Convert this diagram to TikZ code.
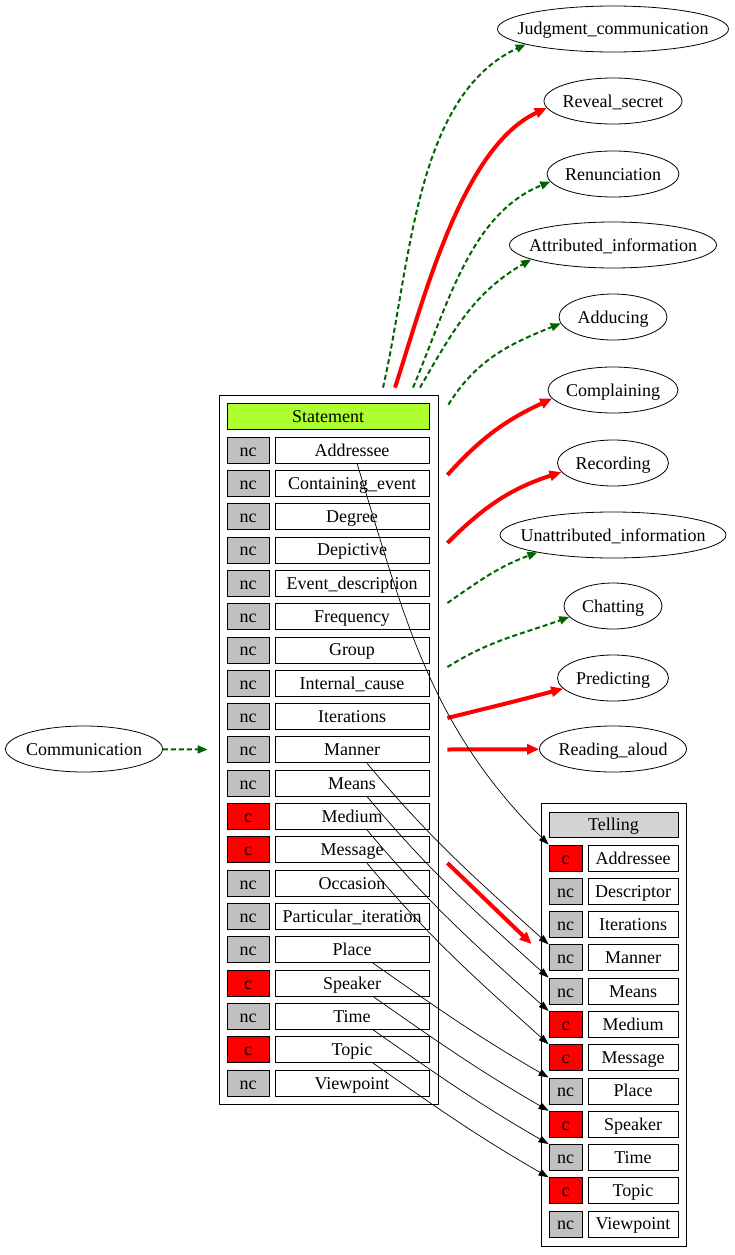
\documentclass[tikz,border=0pt]{standalone}
\usepackage{fontspec}
\setmainfont{Liberation Serif}
\usepackage{tikz}
\usepackage{xcolor}
\usetikzlibrary{
    arrows.meta,
    shapes,
    calc,
    positioning
}
\definecolor{flagc}{HTML}{FF0000}
\definecolor{flagnc}{HTML}{C0C0C0}
\definecolor{headok}{HTML}{ADFF2F}
\definecolor{headgray}{HTML}{D3D3D3}
\definecolor{relgreen}{HTML}{006400}
\newcommand{\nw}[1]{\makebox[0pt]{#1}}

\begin{document}
\begin{tikzpicture}[x=1pt, y=1pt, line width=0.8pt,
        every node/.style={font=\fontsize{18}{21}\selectfont, text height=14pt, text depth=2pt},
        fe/.style={draw, ellipse, inner sep=0pt, minimum height=46pt, minimum width=#1},
        flag/.style={draw, fill=flag#1, inner sep=0pt, minimum height=26pt},
        slot/.style={draw, fill=white, inner sep=0pt, minimum height=26pt, minimum width=#1},
        usedby/.style={relgreen, line width=2pt, dash pattern=on 5pt off 3pt, -{Triangle[length=10pt,width=8pt]}},
        inherit/.style={red, line width=4pt, -{Triangle[length=12pt,width=10pt]}},
        fe2fe/.style={black, line width=0.7pt, -{Triangle[length=10pt,width=7pt]}}]
    \useasboundingbox (0,0) rectangle (735,-1255);

    \node[fe=157pt] (comm) at (84,-749) {\nw{Communication}};
    \node[fe=231pt] (judg) at (613,-29) {\nw{Judgment\_communication}};
    \node[fe=138pt] (reveal) at (613,-101) {\nw{Reveal\_secret}};
    \node[fe=132pt] (renun) at (613,-174) {\nw{Renunciation}};
    \node[fe=207pt] (attr) at (613,-245) {\nw{Attributed\_information}};
    \node[fe=108pt] (adduc) at (613,-317) {\nw{Adducing}};
    \node[fe=130pt] (compl) at (613,-390) {\nw{Complaining}};
    \node[fe=111pt] (record) at (613,-463) {\nw{Recording}};
    \node[fe=226pt] (unattr) at (613,-535) {\nw{Unattributed\_information}};
    \node[fe=98pt] (chat) at (613,-606) {\nw{Chatting}};
    \node[fe=111pt] (predict) at (613,-678) {\nw{Predicting}};
    \node[fe=147pt] (reading) at (613,-749) {\nw{Reading\_aloud}};

    \node[draw, inner sep=0pt, minimum width=219pt, minimum height=709pt] (statement) at (328.5,-749.5) {};
    \node[draw, fill=headok, inner sep=0pt, minimum width=202pt, minimum height=26pt] (sthead) at (328,-416) {Statement};
    \foreach \lbl/\fl [count=\i] in {Addressee/nc, Containing\_event/nc, Degree/nc, Depictive/nc,
            Event\_description/nc, Frequency/nc, Group/nc, Internal\_cause/nc, Iterations/nc, Manner/nc,
            Means/nc, Medium/c, Message/c, Occasion/nc, Particular\_iteration/nc, Place/nc, Speaker/c,
            Time/nc, Topic/c, Viewpoint/nc} {
        \node[flag=\fl, minimum width=42pt] (stf\i) at (248,{-450-(\i-1)*33.316}) {\fl};
        \node[slot=154pt] (st\i) at (352,{-450-(\i-1)*33.316}) {\lbl};
    }

    \node[draw, inner sep=0pt, minimum width=145pt, minimum height=443pt] (telling) at (613.5,-1024.5) {};
    \node[draw, fill=headgray, inner sep=0pt, minimum width=129pt, minimum height=25pt] (tehead) at (613.5,-824.5) {Telling};
    \foreach \lbl/\fl [count=\i] in {Addressee/c, Descriptor/nc, Iterations/nc, Manner/nc, Means/nc,
            Medium/c, Message/c, Place/nc, Speaker/c, Time/nc, Topic/c, Viewpoint/nc} {
        \node[flag=\fl, minimum width=33pt] (tef\i) at (565.5,{-858-(\i-1)*33.27}) {\fl};
        \node[slot=90pt] (te\i) at (633,{-858-(\i-1)*33.27}) {\lbl};
    }

    \draw
    (comm) edge[usedby] ([xshift=-11pt]statement.west)
    ([shift={(54.5,7)}]statement.north) edge[usedby, out=77, in=205, looseness=0.85] (judg.190)
    ([shift={(66.5,7)}]statement.north) edge[inherit, out=72, in=205, looseness=0.75] (reveal.186)
    ([shift={(84.5,7)}]statement.north) edge[usedby, out=67, in=202, looseness=0.9] (renun.187)
    ([shift={(91.5,7)}]statement.north) edge[usedby, out=60, in=210] (attr.190)
    ([shift={(10,-10)}]statement.north east) edge[usedby, out=58, in=202] (adduc.187)
    ([shift={(9,274.5)}]statement.east) edge[inherit, out=48, in=205] (compl.188)
    ([shift={(9,206.5)}]statement.east) edge[inherit, out=45, in=198] (record.190)
    ([shift={(9,146.5)}]statement.east) edge[usedby, out=35, in=200] (unattr.193)
    ([shift={(9,82.5)}]statement.east) edge[usedby, out=32, in=200] (chat.194)
    ([shift={(9,31.5)}]statement.east) edge[inherit, out=14, in=195] (predict.192)
    ([xshift=9pt]statement.east) edge[inherit] (reading)
    ([shift={(9,-113.5)}]statement.east) edge[inherit] ([shift={(-9,80.5)}]telling.west);

    \foreach \a/\b/\dx/\o/\n in {1/1/5/-73/135, 10/4/15/-50/138, 11/5/15/-50/138, 12/6/15/-50/138,
            13/7/15/-50/138, 16/8/21/-35/150, 17/9/21/-35/150, 18/10/21/-35/150, 19/11/21/-35/150}
        \draw ([xshift=\dx pt]st\a.south) edge[fe2fe, out=\o, in=\n] (tef\b.north west);
\end{tikzpicture}
\end{document}
